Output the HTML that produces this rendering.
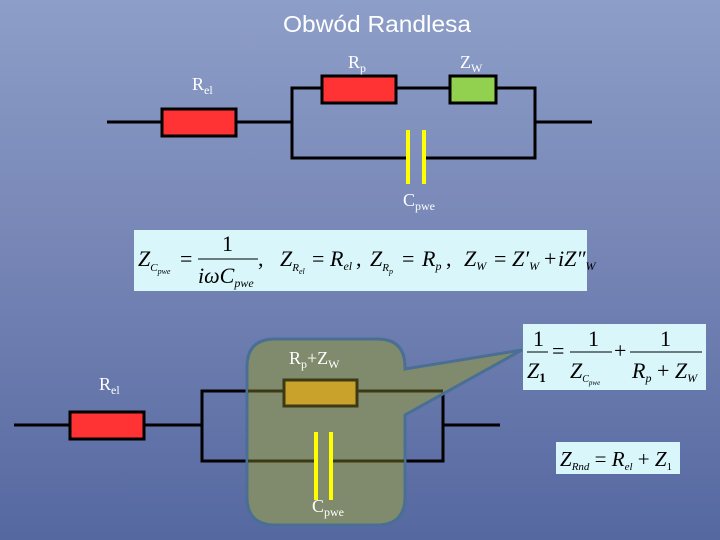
<!DOCTYPE html>
<html><head><meta charset="utf-8"><style>
html,body{margin:0;padding:0;}
body{width:720px;height:540px;overflow:hidden;background:linear-gradient(180deg,#8d9ec8 0%,#7786b6 45%,#5568a0 100%);}
svg{display:block}
.s{font-family:"Liberation Serif",serif;fill:#fff}
.m{font-family:"Liberation Serif",serif;fill:#000}
</style></head><body>
<svg width="720" height="540" viewBox="0 0 720 540" xmlns="http://www.w3.org/2000/svg">
<text x="377" y="32" text-anchor="middle" font-family="Liberation Sans, sans-serif" font-size="23" fill="#fff" textLength="188" lengthAdjust="spacingAndGlyphs">Obwód Randlesa</text>
<!-- top circuit -->
<g stroke="#000" stroke-width="3" fill="none">
<line x1="107" y1="122" x2="162" y2="122"/>
<line x1="236" y1="122" x2="292" y2="122"/>
<polyline points="322,88 292,88 292,158 408,158"/>
<line x1="396" y1="88" x2="450" y2="88"/>
<polyline points="496,88 535,88 535,158 424,158"/>
<line x1="535" y1="122" x2="592" y2="122"/>
</g>
<rect x="162" y="109" width="74" height="27" fill="#ff3333" stroke="#000" stroke-width="3"/>
<rect x="322" y="76" width="74" height="27" fill="#ff3333" stroke="#000" stroke-width="3"/>
<rect x="450" y="76" width="46" height="27" fill="#92d050" stroke="#000" stroke-width="3"/>
<line x1="408" y1="130" x2="408" y2="184" stroke="#ffff00" stroke-width="4"/>
<line x1="424" y1="130" x2="424" y2="184" stroke="#ffff00" stroke-width="4"/>
<text class="s" x="192" y="90" font-size="18">R<tspan font-size="12" dy="4">el</tspan></text>
<text class="s" x="348" y="68" font-size="18">R<tspan font-size="12" dy="4">p</tspan></text>
<text class="s" x="460" y="68" font-size="18">Z<tspan font-size="12" dy="4">W</tspan></text>
<text class="s" x="403" y="206" font-size="18">C<tspan font-size="12" dy="4">pwe</tspan></text>
<!-- formula box 1 -->
<rect x="134" y="230" width="453" height="61" fill="#d9f6fb"/>
<g class="m" font-size="22" font-style="italic">
<text x="138" y="266">Z<tspan font-size="11" dy="5">C</tspan><tspan font-size="8" dy="3">pwe</tspan></text>
<text x="180" y="266" font-style="normal">=</text>
<text x="222" y="251" font-style="normal">1</text>
<line x1="198" y1="259" x2="258" y2="259" stroke="#000" stroke-width="1"/>
<text x="198" y="283">iωC<tspan font-size="12" dy="4">pwe</tspan></text>
<text x="258" y="266" font-style="normal">,</text>
<text x="280" y="266">Z<tspan font-size="11" dy="5">R</tspan><tspan font-size="8" dy="3">el</tspan></text>
<text x="312" y="266" font-style="normal">=</text>
<text x="330" y="266">R<tspan font-size="12" dy="4">el</tspan></text>
<text x="356" y="266" font-style="normal">,</text>
<text x="370" y="266">Z<tspan font-size="11" dy="5">R</tspan><tspan font-size="8" dy="3">p</tspan></text>
<text x="402" y="266" font-style="normal">=</text>
<text x="422" y="266">R<tspan font-size="12" dy="4">p</tspan></text>
<text x="446" y="266" font-style="normal">,</text>
<text x="464" y="266">Z<tspan font-size="12" dy="4">W</tspan></text>
<text x="494" y="266" font-style="normal">=</text>
<text x="512" y="266">Z′<tspan font-size="12" dy="4">W</tspan></text>
<text x="544" y="266" font-style="normal">+</text>
<text x="558" y="266">iZ″<tspan font-size="12" dy="4">W</tspan></text>
</g>
<!-- bottom circuit outside parts -->
<g stroke="#000" stroke-width="3" fill="none">
<line x1="14" y1="425" x2="70" y2="425"/>
<line x1="144" y1="425" x2="202" y2="425"/>
<polyline points="250,391 202,391 202,461 250,461"/>
<polyline points="443,394 443,461 404,461"/>
<line x1="443" y1="425" x2="500" y2="425"/>
</g>
<!-- callout -->
<path d="M275,339 H377 Q405,339 405,367 V369 L522,350 L405,415 V497 Q405,525 377,525 H275 Q247,525 247,497 V367 Q247,339 275,339 Z" fill="#7f8b6c" stroke="#4a6f94" stroke-width="3"/>
<!-- wires inside callout -->
<g stroke="#3b3a14" stroke-width="3" fill="none">
<line x1="248" y1="391" x2="284" y2="391"/>
<line x1="357" y1="391" x2="443" y2="391"/>
<line x1="248" y1="461" x2="315" y2="461"/>
<line x1="331" y1="461" x2="404" y2="461"/>
</g>
<rect x="70" y="412" width="74" height="27" fill="#ff3333" stroke="#000" stroke-width="3"/>
<rect x="284" y="380" width="73" height="26" fill="#c9a22c" stroke="#3b3a14" stroke-width="3"/>
<line x1="316" y1="432" x2="316" y2="500" stroke="#ffff00" stroke-width="4"/>
<line x1="331" y1="432" x2="331" y2="500" stroke="#ffff00" stroke-width="4"/>
<text class="s" x="99" y="390" font-size="18">R<tspan font-size="12" dy="4">el</tspan></text>
<text class="s" x="289" y="364" font-size="18">R<tspan font-size="12" dy="4">p</tspan><tspan dy="-4">+Z</tspan><tspan font-size="12" dy="4">W</tspan></text>
<text class="s" x="312" y="512" font-size="18">C<tspan font-size="12" dy="4">pwe</tspan></text>
<!-- formula box 2 -->
<rect x="523" y="324" width="183" height="66" fill="#d9f6fb"/>
<g class="m" font-size="22" font-style="italic">
<text x="533" y="346" font-style="normal">1</text>
<line x1="527" y1="352" x2="548" y2="352" stroke="#000" stroke-width="1"/>
<text x="527" y="378">Z<tspan font-size="13" dy="4" font-weight="bold" font-style="normal">1</tspan></text>
<text x="552" y="358" font-style="normal">=</text>
<text x="588" y="346" font-style="normal">1</text>
<line x1="570" y1="352" x2="612" y2="352" stroke="#000" stroke-width="1"/>
<text x="570" y="378">Z<tspan font-size="10" dy="4">C</tspan><tspan font-size="7" dy="3">pwe</tspan></text>
<text x="614" y="358" font-style="normal">+</text>
<text x="660" y="346" font-style="normal">1</text>
<line x1="630" y1="352" x2="702" y2="352" stroke="#000" stroke-width="1"/>
<text x="632" y="378">R<tspan font-size="12" dy="4">p</tspan><tspan dy="-4" font-style="normal"> + </tspan>Z<tspan font-size="12" dy="4">W</tspan></text>
</g>
<!-- formula box 3 -->
<rect x="556" y="442" width="124" height="32" fill="#d9f6fb"/>
<text class="m" x="560" y="466" font-size="21" font-style="italic">Z<tspan font-size="11" dy="4">Rnd</tspan><tspan dy="-4" font-style="normal"> = </tspan>R<tspan font-size="11" dy="4">el</tspan><tspan dy="-4" font-style="normal"> + </tspan>Z<tspan font-size="11" dy="4" font-style="normal">1</tspan></text>
</svg>
</body></html>
